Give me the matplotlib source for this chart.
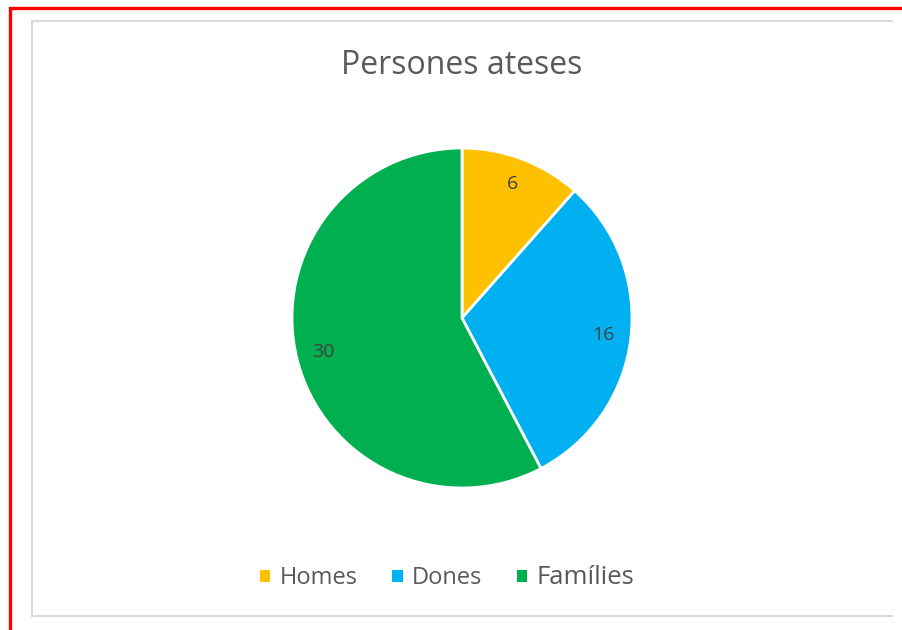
import matplotlib.pyplot as plt
from matplotlib.lines import Line2D
from matplotlib.patches import Rectangle, Patch

# données
categories = ['Homes', 'Dones', 'Famílies']
valeurs = [6, 16, 30]
couleurs = ['#FFC000', '#00B0F0', '#00B050']
titre = 'Persones ateses'

plt.rcParams['font.family'] = ['Open Sans', 'DejaVu Sans']

W, H = 903, 630
fig = plt.figure(figsize=(W / 100, H / 100), dpi=100)

# cadre rouge extérieur
fig.patches.append(Rectangle((10.5 / W, -0.1), 1.2, (H - 8) / H + 0.1,
                             transform=fig.transFigure, fill=False,
                             edgecolor='#FF0000', linewidth=2.4))
# cadre gris du graphique (le bord droit est coupé)
gx0, gx1, gy0, gy1 = 32.5 / W, 892 / W, 1 - 616 / H, 1 - 20.5 / H
for xs, ys in [((gx0, gx1), (gy1, gy1)), ((gx0, gx0), (gy0, gy1)), ((gx0, gx1), (gy0, gy0))]:
    fig.add_artist(Line2D(xs, ys, transform=fig.transFigure, color='#D9D9D9', linewidth=1.5))

# camembert
cx, cy, r = 462, 318, 170
ax = fig.add_axes([(cx - r) / W, (H - cy - r) / H, 2 * r / W, 2 * r / H])
parts, textes = ax.pie(valeurs, colors=couleurs, startangle=90, counterclock=False,
                       labels=[str(v) for v in valeurs], labeldistance=0.84,
                       wedgeprops=dict(edgecolor='white', linewidth=2))
for t in textes:
    t.set_fontsize(14)
    t.set_color('#404040')
    t.set_ha('center')
    t.set_va('center')
ax.set_xlim(-1, 1)
ax.set_ylim(-1, 1)
ax.set_aspect('equal')

fig.text(462 / W, 1 - 66 / H, titre, ha='center', va='center', fontsize=23, color='#595959')

handles = [Patch(facecolor=c, edgecolor='none') for c in couleurs]
leg = fig.legend(handles, categories, loc='center', bbox_to_anchor=(447 / W, 1 - 578 / H),
                 ncol=3, frameon=False, fontsize=17, handlelength=0.45, handleheight=0.45,
                 handletextpad=0.4, columnspacing=1.45, labelcolor='#595959')
leg.get_texts()[2].set_fontsize(18.5)

fig.savefig('out.png', dpi=100)
